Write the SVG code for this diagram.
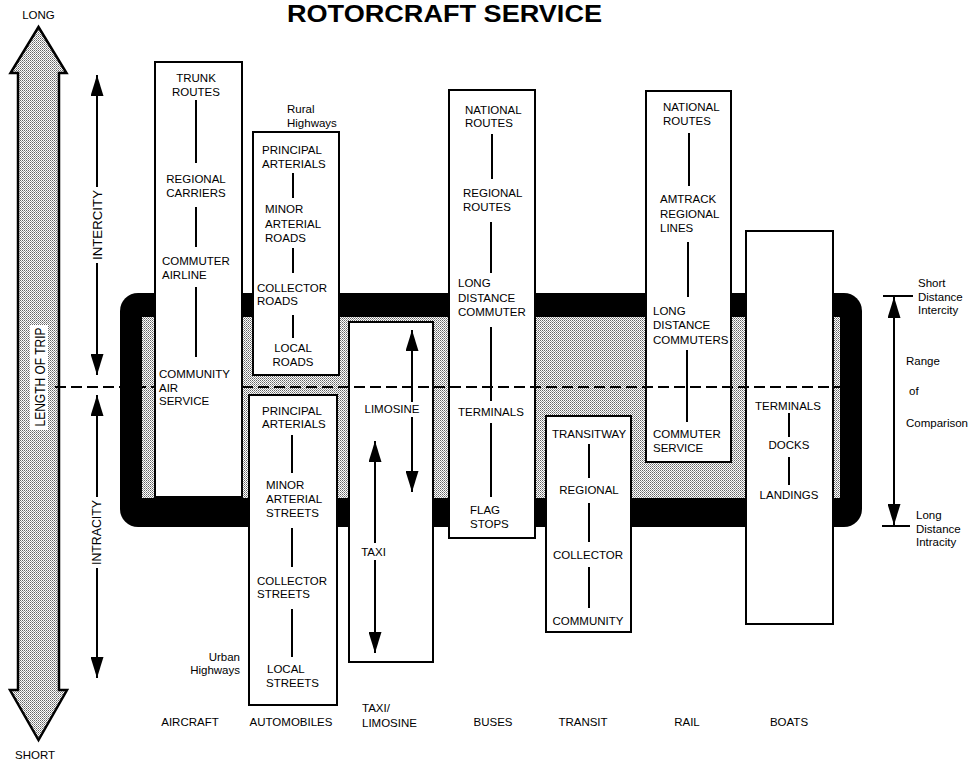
<svg xmlns="http://www.w3.org/2000/svg" width="969" height="761" viewBox="0 0 969 761">
<style>
.t{font-family:"Liberation Sans",Arial,Helvetica,sans-serif;font-size:11.5px;fill:#000}
.c{text-anchor:middle}
.r{text-anchor:end}
.box{fill:#fff;stroke:#000;stroke-width:2}
.ln{stroke:#000;stroke-width:2;fill:none}
.ar{stroke:#000;stroke-width:2;fill:none;marker-end:url(#ah)}
.as{stroke:#000;stroke-width:2;fill:none;marker-start:url(#ah)}
.ab{stroke:#000;stroke-width:2;fill:none;marker-start:url(#ah);marker-end:url(#ah)}
.dash{stroke:#000;stroke-width:2;stroke-dasharray:11 5;fill:none}
</style>
<defs>
<pattern id="stip" width="2" height="2" patternUnits="userSpaceOnUse">
<rect width="2" height="2" fill="#fff"/>
<rect width="1" height="1" fill="#666"/>
<rect x="1" y="1" width="1" height="1" fill="#999"/>
</pattern>
<marker id="ah" viewBox="0 0 21 13" markerWidth="21" markerHeight="13" refX="21" refY="6.5" orient="auto-start-reverse" markerUnits="userSpaceOnUse">
<path d="M0,0 L21,6.5 L0,13 Z" fill="#000"/>
</marker>
</defs>
<rect width="969" height="761" fill="#fff"/>

<text class="t c" x="444.5" y="22" style="font-size:24px;font-weight:bold" textLength="315" lengthAdjust="spacingAndGlyphs">ROTORCRAFT SERVICE</text>

<g id="length-axis">
<path d="M38.5,27 L66.5,73 L59,73 L59,690 L67,690 L38.5,740 L10,690 L18,690 L18,73 L10.5,73 Z" fill="url(#stip)" stroke="#000" stroke-width="2.5" stroke-linejoin="miter"/>
<rect x="30" y="325" width="18" height="105" fill="#fff"/>
<text class="t c" transform="translate(45,377) rotate(-90)" style="font-size:14px" textLength="99" lengthAdjust="spacingAndGlyphs">LENGTH OF TRIP</text>
<text class="t c" x="38.5" y="19">LONG</text>
<text class="t c" x="35" y="759">SHORT</text>
</g>

<g id="comparison-frame">
<rect x="120" y="293" width="742" height="234" rx="18" fill="#000"/>
<rect x="142" y="317" width="698" height="181" fill="url(#stip)"/>
</g>

<g id="aircraft">
<rect class="box" x="155" y="62" width="87" height="435"/>
<text class="t c" x="196" y="82">TRUNK</text>
<text class="t c" x="196" y="96">ROUTES</text>
<text class="t c" x="196" y="183">REGIONAL</text>
<text class="t c" x="196" y="197">CARRIERS</text>
<text class="t" x="162" y="265">COMMUTER</text>
<text class="t" x="162" y="279">AIRLINE</text>
<text class="t" x="159" y="378">COMMUNITY</text>
<text class="t" x="159" y="392">AIR</text>
<text class="t" x="159" y="405">SERVICE</text>
<text class="t c" x="190" y="726">AIRCRAFT</text>
</g>

<g id="automobiles-rural">
<rect class="box" x="253" y="132" width="86" height="243"/>
<text class="t" x="287" y="113">Rural</text>
<text class="t" x="287" y="127">Highways</text>
<text class="t" x="262" y="154">PRINCIPAL</text>
<text class="t" x="262" y="168">ARTERIALS</text>
<text class="t" x="265" y="213">MINOR</text>
<text class="t" x="265" y="228">ARTERIAL</text>
<text class="t" x="265" y="242">ROADS</text>
<text class="t" x="257" y="292">COLLECTOR</text>
<text class="t" x="257" y="305">ROADS</text>
<text class="t c" x="293" y="352">LOCAL</text>
<text class="t c" x="293" y="366">ROADS</text>
</g>

<g id="automobiles-urban">
<rect class="box" x="249" y="395" width="88" height="310"/>
<text class="t r" x="240" y="661">Urban</text>
<text class="t r" x="240" y="674">Highways</text>
<text class="t" x="262" y="415">PRINCIPAL</text>
<text class="t" x="262" y="428">ARTERIALS</text>
<text class="t" x="266" y="489">MINOR</text>
<text class="t" x="266" y="503">ARTERIAL</text>
<text class="t" x="266" y="517">STREETS</text>
<text class="t" x="257" y="585">COLLECTOR</text>
<text class="t" x="257" y="598">STREETS</text>
<text class="t" x="267" y="673">LOCAL</text>
<text class="t" x="266" y="687">STREETS</text>
<text class="t c" x="291" y="726">AUTOMOBILES</text>
</g>

<g id="taxi-limosine">
<rect class="box" x="349" y="322" width="84" height="340"/>
<text class="t c" x="392" y="413">LIMOSINE</text>
<text class="t c" x="373.5" y="556">TAXI</text>
<text class="t" x="362" y="712">TAXI/</text>
<text class="t" x="362" y="727">LIMOSINE</text>
</g>

<g id="buses">
<rect class="box" x="449" y="90" width="86" height="448"/>
<text class="t" x="465" y="114">NATIONAL</text>
<text class="t" x="465" y="127">ROUTES</text>
<text class="t" x="463" y="197">REGIONAL</text>
<text class="t" x="463" y="211">ROUTES</text>
<text class="t" x="458" y="287">LONG</text>
<text class="t" x="458" y="302">DISTANCE</text>
<text class="t" x="458" y="316">COMMUTER</text>
<text class="t" x="458" y="416">TERMINALS</text>
<text class="t" x="470" y="514">FLAG</text>
<text class="t" x="470" y="528">STOPS</text>
<text class="t c" x="493" y="726">BUSES</text>
</g>

<g id="transit">
<rect class="box" x="546" y="416" width="85" height="216"/>
<text class="t c" x="589" y="438">TRANSITWAY</text>
<text class="t c" x="589" y="494">REGIONAL</text>
<text class="t c" x="588" y="559">COLLECTOR</text>
<text class="t c" x="588" y="625">COMMUNITY</text>
<text class="t c" x="583" y="726">TRANSIT</text>
</g>

<g id="rail">
<rect class="box" x="646" y="91" width="85" height="371"/>
<text class="t" x="663" y="111">NATIONAL</text>
<text class="t" x="663" y="125">ROUTES</text>
<text class="t" x="660" y="203">AMTRACK</text>
<text class="t" x="660" y="218">REGIONAL</text>
<text class="t" x="660" y="232">LINES</text>
<text class="t" x="653" y="315">LONG</text>
<text class="t" x="653" y="329">DISTANCE</text>
<text class="t" x="653" y="344">COMMUTERS</text>
<text class="t" x="653" y="438">COMMUTER</text>
<text class="t" x="653" y="452">SERVICE</text>
<text class="t c" x="687" y="726">RAIL</text>
</g>

<g id="boats">
<rect class="box" x="746" y="231" width="87" height="393"/>
<text class="t c" x="788" y="410">TERMINALS</text>
<text class="t c" x="789" y="449">DOCKS</text>
<text class="t c" x="789" y="499">LANDINGS</text>
<text class="t c" x="789" y="726">BOATS</text>
</g>

<g id="range-legend">
<text class="t" x="918" y="287">Short</text>
<text class="t" x="918" y="301">Distance</text>
<text class="t" x="918" y="314">Intercity</text>
<text class="t" x="906" y="365">Range</text>
<text class="t" x="909" y="395">of</text>
<text class="t" x="906" y="427">Comparison</text>
<text class="t" x="916" y="519">Long</text>
<text class="t" x="916" y="533">Distance</text>
<text class="t" x="916" y="546">Intracity</text>
</g>

<g id="city-axis">
<text class="t c" transform="translate(102,225) rotate(-90)" style="font-size:13.5px" textLength="70" lengthAdjust="spacingAndGlyphs">INTERCITY</text>
<text class="t c" transform="translate(101,532.5) rotate(-90)" style="font-size:13px" textLength="65" lengthAdjust="spacingAndGlyphs">INTRACITY</text>
</g>

<g id="connectors">
<path class="dash" d="M55,387 H155 M242,387 H860"/>
<path class="as" d="M97,75 V187"/>
<path class="ar" d="M97,263 V375"/>
<path class="as" d="M97,395 V497"/>
<path class="ar" d="M97,568 V678"/>
<path class="ab" d="M894,297 V525"/>
<path class="ln" d="M883,296 H913 M882,526 H910"/>
<path class="ln" d="M196,100 V163 M196,207 V247 M196,287 V357"/>
<path class="ln" d="M293,173 V198 M293,248 V273 M293,315 V338"/>
<path class="ln" d="M292,435 V473 M292,528 V567 M292,609 V657"/>
<path class="as" d="M412,330 V402"/>
<path class="ar" d="M412,417 V492"/>
<path class="as" d="M375,441 V543"/>
<path class="ar" d="M375,560 V653"/>
<path class="ln" d="M492,134 V179 M491,222 V273 M491,327 V401 M491,423 V497"/>
<path class="ln" d="M589,444 V478 M589,503 V542 M589,567 V608"/>
<path class="ln" d="M689,133 V186 M688,242 V297 M687,350 V422"/>
<path class="ln" d="M789,413 V437 M789,457 V485"/>
</g>
</svg>
